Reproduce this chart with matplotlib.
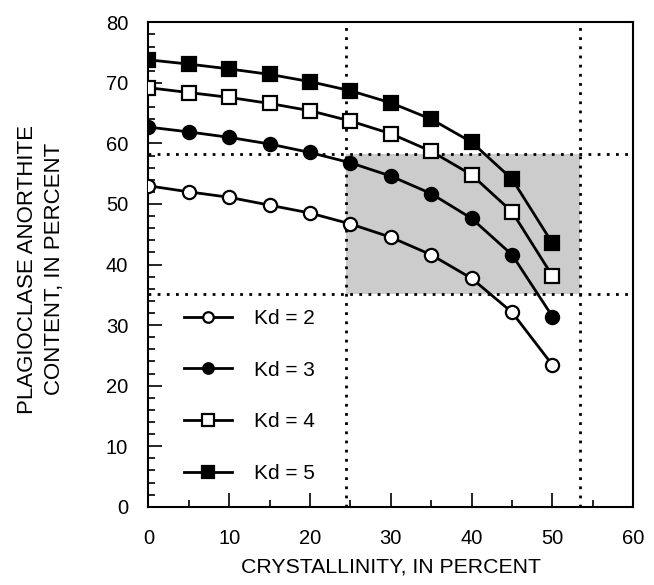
#!/usr/bin/env python3
"""Plagioclase anorthite content against crystallinity for several Kd values."""
import matplotlib
matplotlib.use("Agg")
import matplotlib.pyplot as plt
from matplotlib.ticker import MultipleLocator

plt.rcParams["font.family"] = ["Liberation Sans Narrow", "Liberation Sans", "DejaVu Sans"]

# Data
crystallinity = [0, 5, 10, 15, 20, 25, 30, 35, 40, 45, 50]
kd2 = [53.0, 52.0, 51.1, 49.8, 48.5, 46.7, 44.5, 41.6, 37.7, 32.1, 23.4]
kd3 = [62.7, 61.9, 61.0, 59.9, 58.5, 56.8, 54.6, 51.7, 47.6, 41.6, 31.4]
kd4 = [69.2, 68.4, 67.6, 66.6, 65.4, 63.7, 61.6, 58.7, 54.8, 48.7, 38.1]
kd5 = [73.8, 73.1, 72.3, 71.4, 70.2, 68.7, 66.7, 64.0, 60.2, 54.1, 43.5]
labels = ["Kd = 2", "Kd = 3", "Kd = 4", "Kd = 5"]

# Observed ranges (dotted box)
cryst_range = [24.5, 53.4]
an_range = [35.2, 58.2]


def main() -> None:
    fig = plt.figure(figsize=(6.54, 5.85), dpi=100)
    ax = fig.add_axes([0.2268, 0.1338, 0.7416, 0.8281])

    # Shaded box and dotted reference lines
    ax.axvspan(cryst_range[0], cryst_range[1], ymin=an_range[0] / 80, ymax=an_range[1] / 80,
               color="#cccccc", lw=0, zorder=0)
    dot = dict(color="black", lw=2, linestyle=(0, (1, 2.3)), zorder=1)
    for x in cryst_range:
        ax.axvline(x, **dot)
    for y in an_range:
        ax.axhline(y, **dot)

    styles = [
        (kd2, "o", "white"),
        (kd3, "o", "black"),
        (kd4, "s", "white"),
        (kd5, "s", "black"),
    ]
    for (values, marker, face), label in zip(styles, labels):
        ax.plot(crystallinity, values, color="black", lw=2, marker=marker,
                markersize=9.5 if marker == "o" else 10, markerfacecolor=face,
                markeredgecolor="black", markeredgewidth=1.6, label=label, zorder=3)

    ax.set_xlim(0, 60)
    ax.set_ylim(0, 80)
    ax.xaxis.set_major_locator(MultipleLocator(10))
    ax.xaxis.set_minor_locator(MultipleLocator(5))
    ax.yaxis.set_major_locator(MultipleLocator(10))
    ax.yaxis.set_minor_locator(MultipleLocator(2))
    ax.tick_params(which="both", direction="in", top=False, right=False,
                   labelsize=14.5, width=1.2)
    ax.tick_params(axis="x", which="both", pad=16)
    ax.tick_params(axis="y", which="both", pad=14.5)
    ax.tick_params(which="major", length=10)
    ax.tick_params(which="minor", length=5)
    for spine in ax.spines.values():
        spine.set_linewidth(1.5)

    ax.set_xlabel("CRYSTALLINITY, IN PERCENT", fontsize=15.3, labelpad=7)
    ax.set_ylabel("PLAGIOCLASE ANORTHITE\nCONTENT, IN PERCENT", fontsize=16,
                  linespacing=1.35)
    ax.yaxis.set_label_coords(-0.172, 0.49)

    ax.legend(loc="lower left", bbox_to_anchor=(0.035, 0.01), frameon=False, fontsize=15,
              handlelength=2.3, labelspacing=1.57, handletextpad=1.06, markerscale=0.8)

    fig.savefig("out.png", dpi=100)


if __name__ == "__main__":
    main()
